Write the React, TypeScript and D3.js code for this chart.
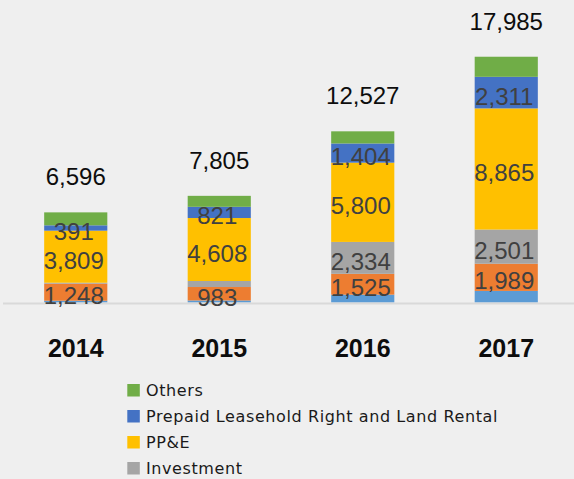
import React from "react";
import * as d3 from "d3";

const years = ["2014", "2015", "2016", "2017"];
// stacked bottom -> top
const baseSeries = [130, 150, 574, 849]; // light blue, legend entry cut off
const secondSeries = [1248, 983, 1525, 1989]; // orange, legend entry cut off
const investment = [70, 440, 2334, 2501];
const ppe = [3809, 4608, 5800, 8865];
const prepaid = [391, 821, 1404, 2311];
const others = [948, 803, 890, 1470];

const seriesKeys = ["base", "second", "investment", "ppe", "prepaid", "others"];
const seriesColors = ["#5B9BD5", "#ED7D31", "#A5A5A5", "#FFC000", "#4472C4", "#70AD47"];
const seriesLabelShown = [
  [false, false, false, false],
  [true, true, true, true],
  [false, false, true, true],
  [true, true, true, true],
  [true, true, true, true],
  [false, false, false, false],
];
const legendNames = ["Others", "Prepaid Leasehold Right and Land Rental", "PP&E", "Investment"];
const legendColors = ["#70AD47", "#4472C4", "#FFC000", "#A5A5A5"];

const W = 574;
const H = 479;

export default function App() {
  const rows = years.map((yr, i) => ({
    year: yr,
    base: baseSeries[i],
    second: secondSeries[i],
    investment: investment[i],
    ppe: ppe[i],
    prepaid: prepaid[i],
    others: others[i],
  }));
  const stacked = d3.stack<any>().keys(seriesKeys)(rows);
  const x = d3.scaleBand().domain(years).range([4, 578]).paddingInner(0.56).paddingOuter(0.28);
  const y = d3.scaleLinear().domain([0, 20000]).range([302.5, 29.2]);
  const fmt = d3.format(",");
  const totals = rows.map((r) => seriesKeys.reduce((s, k) => s + (r as any)[k], 0));
  const bw = x.bandwidth();

  return (
    <svg width={W} height={H} style={{ position: "absolute", left: 0, top: 0, background: "#efefef" }}>
      <rect x={0} y={0} width={W} height={H} fill="#efefef" />
      <defs>
        {years.map((yr) => (
          <clipPath id={"clip" + yr} key={yr}>
            <rect x={x(yr)} y={0} width={bw} height={H} />
          </clipPath>
        ))}
      </defs>
      {stacked.map((s, si) => (
        <g key={s.key} fill={seriesColors[si]}>
          {s.map((d, i) => (
            <rect key={i} x={x(years[i])} y={y(d[1])} width={bw} height={Math.max(0, y(d[0]) - y(d[1]))} />
          ))}
        </g>
      ))}
      <line x1={3} x2={574} y1={303.5} y2={303.5} stroke="#d9d9d9" strokeWidth={2} />
      {stacked.map((s, si) => (
        <g key={"l" + s.key}>
          {s.map((d, i) =>
            seriesLabelShown[si][i] ? (
              <text
                key={i}
                clipPath={`url(#clip${years[i]})`}
                x={(x(years[i]) as number) + bw / 2 - 2}
                y={(y(d[0]) + y(d[1])) / 2 + 12}
                textAnchor="middle"
                fontFamily="'Liberation Sans', Arial, sans-serif"
                fontSize={24}
                fill="#404040"
              >
                {fmt(d[1] - d[0])}
              </text>
            ) : null
          )}
        </g>
      ))}
      {totals.map((t, i) => (
        <text
          key={"t" + i}
          x={(x(years[i]) as number) + bw / 2}
          y={y(t) - 27}
          textAnchor="middle"
          fontFamily="'Liberation Sans', Arial, sans-serif"
          fontSize={24}
          fill="#0d0d0d"
        >
          {fmt(t)}
        </text>
      ))}
      {years.map((yr) => (
        <text
          key={"y" + yr}
          x={(x(yr) as number) + bw / 2}
          y={357.3}
          textAnchor="middle"
          fontFamily="'Liberation Sans', Arial, sans-serif"
          fontSize={25}
          fontWeight="bold"
          fill="#0d0d0d"
        >
          {yr}
        </text>
      ))}
      {legendNames.map((n, i) => (
        <g key={n} transform={`translate(127.3, ${384 + i * 26})`}>
          <rect x={0} y={0} width={12.5} height={12.5} fill={legendColors[i]} />
          <text
            x={18.7}
            y={12.3}
            fontFamily="'DejaVu Sans', sans-serif"
            fontSize={16}
            letterSpacing={0.6}
            fill="#1a1a1a"
          >
            {n}
          </text>
        </g>
      ))}
    </svg>
  );
}
